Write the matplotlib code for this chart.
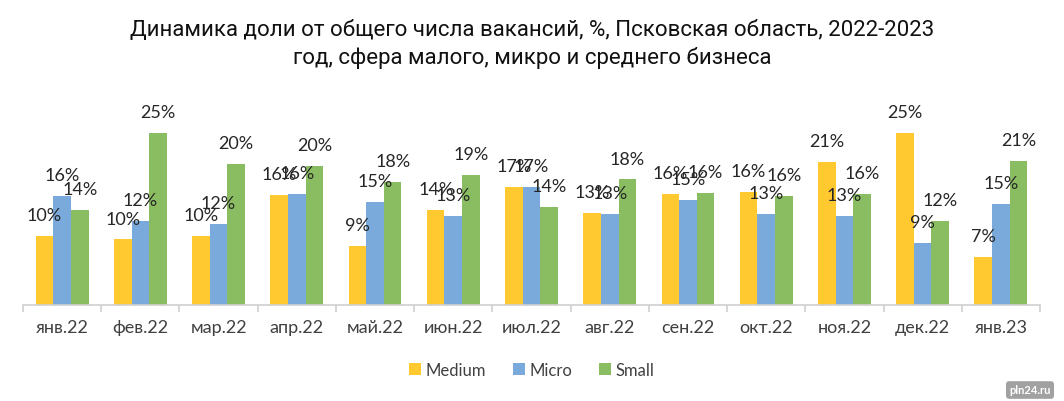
import numpy as np
import matplotlib.pyplot as plt
from matplotlib import font_manager

# months and shares (%)
months = ['янв.22', 'фев.22', 'мар.22', 'апр.22', 'май.22', 'июн.22', 'июл.22',
          'авг.22', 'сен.22', 'окт.22', 'ноя.22', 'дек.22', 'янв.23']
medium = [10.0, 9.5, 10.0, 15.9, 8.6, 13.8, 17.1, 13.4, 16.1, 16.4, 20.7, 24.9, 7.0]
micro = [15.8, 12.2, 11.7, 16.1, 14.9, 12.9, 17.1, 13.2, 15.2, 13.2, 12.9, 9.0, 14.6]
small = [13.8, 25.0, 20.4, 20.1, 17.8, 18.9, 14.2, 18.2, 16.2, 15.8, 16.1, 12.2, 20.9]
labels_medium = ['10%', '10%', '10%', '16%', '9%', '14%', '17%', '13%', '16%', '16%', '21%', '25%', '7%']
labels_micro = ['16%', '12%', '12%', '16%', '15%', '13%', '17%', '13%', '15%', '13%', '13%', '9%', '15%']
labels_small = ['14%', '25%', '20%', '20%', '18%', '19%', '14%', '18%', '16%', '16%', '16%', '12%', '21%']

names = [f.name for f in font_manager.fontManager.ttflist]
title_font = 'Liberation Sans Narrow' if 'Liberation Sans Narrow' in names else 'Roboto'
plt.rcParams['font.family'] = ['Lato', 'DejaVu Sans']

fig = plt.figure(figsize=(10.64, 4.02), dpi=100)
ax = fig.add_axes([23 / 1064, 1 - 306 / 402, 1017 / 1064, 0.70])

x = np.arange(len(months))
w = 0.225
series = [(medium, labels_medium, '#FFC92F', 'Medium'),
          (micro, labels_micro, '#7AAADC', 'Micro'),
          (small, labels_small, '#8ABD62', 'Small')]
for k, (vals, labs, col, name) in enumerate(series):
    pos = x + (k - 1) * w
    ax.bar(pos, vals, width=w, color=col, label=name, zorder=2)
    for px, v, t in zip(pos, vals, labs):
        ax.annotate(t, (px, v), xytext=(0, 15), textcoords='offset points',
                    ha='center', va='center', fontsize=13, color='#262626')

ax.set_xlim(-0.5, len(months) - 0.5)
ax.set_ylim(0, 0.70 * 402 / 6.9)
for s in ['top', 'right', 'left']:
    ax.spines[s].set_visible(False)
ax.spines['bottom'].set_color('#d0d0d0')
ax.spines['bottom'].set_linewidth(1.2)
ax.set_yticks([])
ax.set_xticks(np.arange(-0.5, len(months), 1.0))
ax.set_xticklabels([])
ax.set_xticks(x, minor=True)
ax.set_xticklabels(months, minor=True, fontsize=13, color='#404040')
ax.tick_params(axis='x', which='major', length=5, color='#d0d0d0', width=1.2)
ax.tick_params(axis='x', which='minor', length=0, pad=10)

fig.legend(loc='center', bbox_to_anchor=(0.5, 1 - 371 / 402), ncol=3, frameon=False,
           fontsize=12, handlelength=0.7, handleheight=0.7, handletextpad=0.3,
           columnspacing=1.6, labelcolor='#404040')

fig.text(0.5, 1 - 30 / 402, 'Динамика доли от общего числа вакансий, %, Псковская область, 2022-2023',
         ha='center', va='center', fontsize=16, family=title_font, color='#111111')
fig.text(0.5, 1 - 58 / 402, 'год, сфера малого, микро и среднего бизнеса',
         ha='center', va='center', fontsize=16, family=title_font, color='#111111')

fig.text(1030 / 1064, 1 - 391 / 402, 'pln24.ru', ha='center', va='center', fontsize=8,
         color='white', fontweight='bold',
         bbox=dict(boxstyle='round,pad=0.3', fc='#8a8a8a', ec='none', alpha=0.8))

fig.savefig('out.png', dpi=100, facecolor='white')
